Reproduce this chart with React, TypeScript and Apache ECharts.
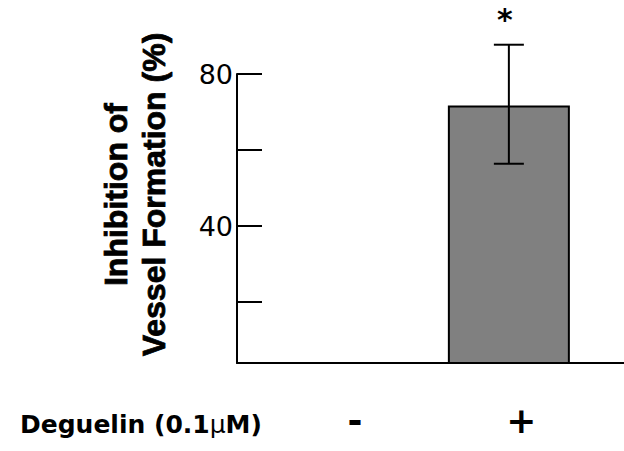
import React, { useEffect, useRef } from "react";
import * as echarts from "echarts";

const categories = ["-", "+"];
const categoryPositions = [1.22, 2.94];
const barPositions = [2.81];
const barValues = [71.7];
const errorLow = [56.4];
const errorHigh = [87.7];
const sigLabels = ["*"];
const yLabelValues = [40, 80];
const yTickValues = [20, 40, 60, 80];
const rowLabel = "Deguelin (0.1{mu|μ}M)";

export default function App() {
  const ref = useRef<HTMLDivElement>(null);
  useEffect(() => {
    if (!ref.current) return;
    document.body.style.margin = "0";
    const chart = echarts.init(ref.current, null, { renderer: "svg" });
    const barData = barPositions.map((x, i) => [x, barValues[i]]);
    const errData = barPositions.map((x, i) => [x, errorLow[i], errorHigh[i], i]);
    chart.setOption({
      animation: false,
      grid: { left: 237, right: 0, top: 74, bottom: 88, containLabel: false },
      xAxis: {
        type: "value",
        min: 0,
        max: 4,
        splitLine: { show: false },
        axisLine: { show: true, lineStyle: { color: "#000", width: 2 } },
        axisTick: { show: false },
        axisLabel: {
          customValues: categoryPositions,
          margin: 40,
          formatter: (v: number) => {
            let best = 0;
            categoryPositions.forEach((p, i) => {
              if (Math.abs(p - v) < Math.abs(categoryPositions[best] - v)) best = i;
            });
            return categories[best];
          },
          fontFamily: "DejaVu Sans",
          fontWeight: "bold",
          fontSize: 36,
          lineHeight: 34,
          color: "#000",
        },
      },
      yAxis: {
        type: "value",
        min: 4,
        max: 80,
        splitLine: { show: false },
        axisLine: { show: true, lineStyle: { color: "#000", width: 2 } },
        axisTick: {
          show: true,
          inside: true,
          length: 25,
          customValues: yTickValues,
          lineStyle: { color: "#000", width: 2 },
        },
        axisLabel: {
          customValues: yLabelValues,
          margin: 4,
          fontFamily: "DejaVu Sans",
          fontSize: 27,
          color: "#000",
        },
        name: "Inhibition of\nVessel Formation (%)",
        nameLocation: "middle",
        nameRotate: 90,
        nameGap: 64,
        nameTextStyle: {
          fontFamily: "Liberation Sans",
          fontWeight: "bold",
          fontSize: 32,
          lineHeight: 38,
          color: "#000",
          textBorderColor: "#000",
          textBorderWidth: 0.8,
          padding: [0, 0, 0, 48],
        },
      },
      series: [
        {
          type: "bar",
          z: 2,
          data: barData,
          barWidth: 122,
          itemStyle: { color: "#808080", borderColor: "#000", borderWidth: 2 },
        },
        {
          type: "custom",
          z: 5,
          clip: false,
          data: errData,
          renderItem: (params: any, api: any) => {
            const x = api.value(0);
            const lo = api.coord([x, api.value(1)]);
            const hi = api.coord([x, api.value(2)]);
            const idx = api.value(3);
            const cap = 15;
            const style = { stroke: "#000", lineWidth: 2, fill: null };
            return {
              type: "group",
              children: [
                { type: "line", z2: 10, shape: { x1: lo[0], y1: lo[1], x2: hi[0], y2: hi[1] }, style },
                { type: "line", z2: 10, shape: { x1: lo[0] - cap, y1: lo[1], x2: lo[0] + cap, y2: lo[1] }, style },
                { type: "line", z2: 10, shape: { x1: hi[0] - cap, y1: hi[1], x2: hi[0] + cap, y2: hi[1] }, style },
                {
                  type: "text",
                  x: hi[0] - 4,
                  y: hi[1] - 25,
                  style: {
                    text: sigLabels[idx],
                    fontFamily: "DejaVu Sans",
                    fontWeight: "bold",
                    fontSize: 30,
                    fill: "#000",
                    align: "center",
                    verticalAlign: "middle",
                  },
                },
              ],
            };
          },
        },
      ],
      graphic: [
        {
          type: "text",
          left: 20,
          top: 412,
          style: {
            text: rowLabel,
            fontFamily: "DejaVu Sans",
            fontWeight: "bold",
            fontSize: 25,
            fill: "#000",
            rich: {
              mu: { fontFamily: "DejaVu Sans", fontWeight: "normal", fontSize: 25, fill: "#000" },
            },
          },
        },
      ],
    });
    return () => chart.dispose();
  }, []);
  return <div ref={ref} style={{ width: 624, height: 451 }} />;
}
